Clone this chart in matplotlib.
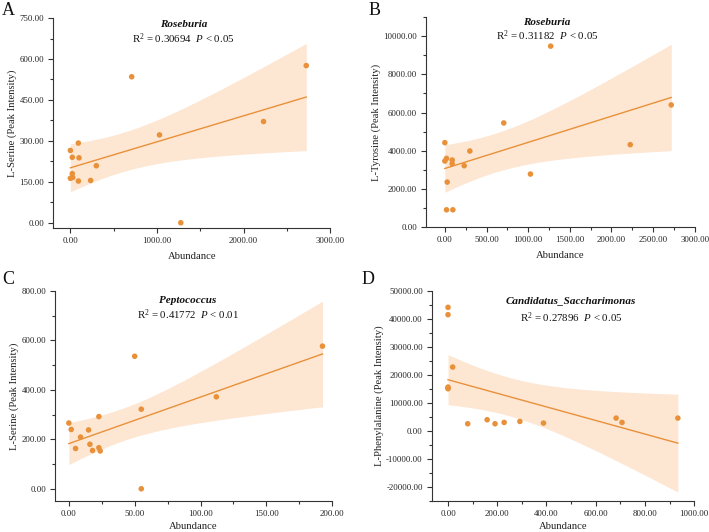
import numpy as np
import matplotlib
matplotlib.use("Agg")
import matplotlib.pyplot as plt
from matplotlib.ticker import AutoMinorLocator, FormatStrFormatter

plt.rcParams['font.family'] = ['Liberation Serif', 'DejaVu Serif']
plt.rcParams['mathtext.fontset'] = 'custom'
plt.rcParams['mathtext.rm'] = 'Liberation Serif'
plt.rcParams['mathtext.it'] = 'Liberation Serif:italic'

# Roseburia abundance (panels A, B)
roseburia = [0, 92, 22, 100, 22, 27, 0, 93, 234, 300, 708, 1029, 1275, 2230, 2723]
serine_a = [265, 292, 240, 238, 180, 166, 163, 153, 155, 209, 535, 322, 0, 371, 576]

roseburia_b = [0, 0, 20, 28, 20, 96, 88, 88, 232, 300, 707, 1027, 1270, 2225, 2717]
tyrosine = [4423, 3462, 3601, 2360, 909, 909, 3514, 3322, 3217, 3986, 5455, 2780, 9476, 4318, 6399]

# Peptococcus abundance (panel C)
peptococcus = [0, 1.8, 8.9, 5.1, 15, 16, 18, 22.8, 22.8, 23.8, 50, 55, 55, 112, 192.6]
serine_c = [266, 240, 209, 163, 238, 180, 155, 292, 166, 153, 536, 322, 0, 372, 577]

# Candidatus_Saccharimonas abundance (panel D)
saccharimonas = [0, 0, 19, 0, 0, 80, 159, 191, 228, 292, 388, 683, 707, 934, 0]
phenylalanine = [44167, 41548, 22857, 15714, 15119, 2619, 4048, 2619, 3095, 3452, 2857, 4643, 3095, 4643, 15400]

panels = [
    dict(letter="A", x=roseburia, y=serine_a, genus="Roseburia", r2="0.30694", p="0.05",
         ylabel="L-Serine (Peak Intensity)", xlim=(-200, 3000), ylim=(-20, 750),
         xt=[0, 1000, 2000, 3000], yt=[0, 150, 300, 450, 600, 750],
         pos=[0.0748, 0.571, 0.391, 0.395], tx=0.47, ty=(0.97, 0.90), lpos=(0.003, 0.997), xpad=5),
    dict(letter="B", x=roseburia_b, y=tyrosine, genus="Roseburia", r2="0.31182", p="0.05",
         ylabel="L-Tyrosine (Peak Intensity)", xlim=(-225, 3000), ylim=(0, 11000),
         xt=[0, 500, 1000, 1500, 2000, 2500, 3000], yt=[0, 2000, 4000, 6000, 8000, 10000],
         pos=[0.601, 0.573, 0.379, 0.395], tx=0.45, ty=(0.975, 0.91), lpos=(0.52, 0.997), xpad=5),
    dict(letter="C", x=peptococcus, y=serine_c, genus="Peptococcus", r2="0.41772", p="0.01",
         ylabel="L-Serine (Peak Intensity)", xlim=(-10.5, 200), ylim=(-50, 800),
         xt=[0, 50, 100, 150, 200], yt=[0, 200, 400, 600, 800],
         pos=[0.0776, 0.058, 0.391, 0.395], tx=0.48, ty=(0.955, 0.885), lpos=(0.003, 0.49), xpad=2.5),
    dict(letter="D", x=saccharimonas, y=phenylalanine, genus="Candidatus_Saccharimonas", r2="0.27896", p="0.05",
         ylabel="L-Phenylalanine (Peak Intensity)", xlim=(-66, 1000), ylim=(-25000, 50000),
         xt=[0, 200, 400, 600, 800, 1000], yt=[-20000, -10000, 0, 10000, 20000, 30000, 40000, 50000],
         pos=[0.609, 0.058, 0.370, 0.395], tx=0.53, ty=(0.955, 0.875), lpos=(0.51, 0.49), xpad=2.5),
]

point_color = "#E8913A"
band_color = "#FDE6D2"
t_crit = 2.160  # t(0.975, 13 df)

fig = plt.figure(figsize=(7.09, 5.32), dpi=100)

for p in panels:
    ax = fig.add_axes(p["pos"])
    x = np.array(p["x"], dtype=float)
    y = np.array(p["y"], dtype=float)

    # linear fit and 95% confidence band
    slope, inter = np.polyfit(x, y, 1)
    xs = np.linspace(x.min(), x.max(), 200)
    fit = slope * xs + inter
    resid = y - (slope * x + inter)
    s = np.sqrt(np.sum(resid ** 2) / (len(x) - 2))
    sxx = np.sum((x - x.mean()) ** 2)
    half = t_crit * s * np.sqrt(1 / len(x) + (xs - x.mean()) ** 2 / sxx)

    ax.fill_between(xs, fit - half, fit + half, color=band_color, lw=0, zorder=1)
    ax.plot(xs, fit, color=point_color, lw=1.0, zorder=2)
    ax.scatter(x, y, s=16, color=point_color, edgecolor="none", zorder=3)

    ax.set_xlim(p["xlim"])
    ax.set_ylim(p["ylim"])
    ax.set_xticks(p["xt"])
    ax.set_yticks(p["yt"])
    ax.xaxis.set_minor_locator(AutoMinorLocator(2))
    ax.yaxis.set_minor_locator(AutoMinorLocator(2))
    ax.xaxis.set_major_formatter(FormatStrFormatter("%.2f"))
    ax.yaxis.set_major_formatter(FormatStrFormatter("%.2f"))
    ax.spines["top"].set_visible(False)
    ax.spines["right"].set_visible(False)
    for sp in ("left", "bottom"):
        ax.spines[sp].set_linewidth(0.8)
        ax.spines[sp].set_color("#333333")
    ax.tick_params(which="major", length=3.5, width=0.8, labelsize=6.3, colors="#333333", pad=3)
    ax.tick_params(which="minor", length=2, width=0.8, colors="#333333")
    for lab in ax.get_xticklabels() + ax.get_yticklabels():
        lab.set_color("#222222")

    ax.set_xlabel("Abundance", fontsize=7.7, color="#222222", labelpad=p["xpad"])
    ax.set_ylabel(p["ylabel"], fontsize=7.7, color="#222222", labelpad=1.5)

    ax.text(p["tx"], p["ty"][0], p["genus"], transform=ax.transAxes, ha="center", va="center",
            fontsize=8, fontweight="bold", fontstyle="italic", color="#111111")
    ax.text(p["tx"], p["ty"][1], "R$^2$ = " + p["r2"] + "  $P$ < " + p["p"], transform=ax.transAxes,
            ha="center", va="center", fontsize=7.8, color="#111111")

    fig.text(p["lpos"][0], p["lpos"][1], p["letter"], fontsize=13, va="top", ha="left", color="#111111")

fig.savefig("out.png", dpi=100)
